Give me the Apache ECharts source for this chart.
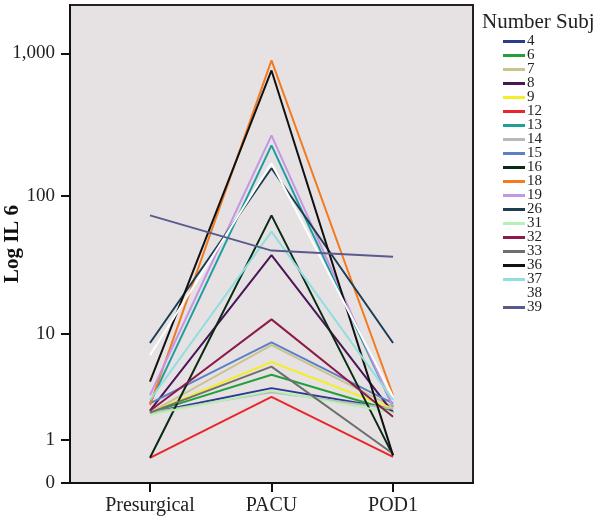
<!DOCTYPE html>
<html><head><meta charset="utf-8">
<script src="https://cdn.jsdelivr.net/npm/echarts@6/dist/echarts.min.js"></script>
<style>html,body{margin:0;padding:0;background:#fff}#c{width:601px;height:520px}</style>
</head><body><div id="c"></div>
<script>
var timepoints = ['Presurgical', 'PACU', 'POD1'];
var yTickValues = [0, 1, 10, 100, 1000];
var subjects = ['4','6','7','8','9','12','13','14','15','16','18','19','26','31','32','33','36','37','38','39'];
var colors = ['#2c3a8c','#22a03c','#c9c48f','#4a1657','#f2ee2a','#e8262c','#1f9e9e','#b9b9b9','#5b80c6','#0b2a16','#f47a20','#c596e6','#1b3e52','#b6f0b6','#8c1b4c','#6e6e6e','#111111','#90dede','#ffffff','#5b5a8c'];
var s4  = [2.1, 3.6, 2.3];
var s6  = [2.1, 4.7, 2.2];
var s7  = [2.1, 8.2, 2.4];
var s8  = [2.2, 38, 2.1];
var s9  = [2.1, 6.0, 2.3];
var s12 = [0.5, 3.0, 0.52];
var s13 = [2.6, 227, 2.4];
var s14 = [2.1, 3.3, 2.3];
var s15 = [2.6, 8.6, 2.6];
var s16 = [0.5, 73, 0.56];
var s18 = [2.5, 894, 3.1];
var s19 = [3.1, 267, 2.4];
var s26 = [8.5, 157, 8.5];
var s31 = [2.0, 3.4, 2.1];
var s32 = [2.2, 12.9, 1.9];
var s33 = [2.1, 5.5, 0.6];
var s36 = [4.1, 761, 0.56];
var s37 = [2.8, 56, 2.8];
var s38 = [6.8, 170, 3.0];
var s39 = [73, 41, 37];
var seriesValues = [s4,s6,s7,s8,s9,s12,s13,s14,s15,s16,s18,s19,s26,s31,s32,s33,s36,s37,s38,s39];

function tr(v){ return Math.log10(v + 1); }

var chart = echarts.init(document.getElementById('c'), null, {renderer:'canvas'});
var font = '"Liberation Serif","DejaVu Serif",serif';
var series = subjects.map(function(name, i){
  return {
    name: name, type: 'line', symbol: 'none', silent: true,
    lineStyle: {color: colors[i], width: 2},
    itemStyle: {color: colors[i]},
    data: seriesValues[i].map(function(v, j){ return [j, tr(v)]; })
  };
});
chart.setOption({
  animation: false,
  backgroundColor: '#ffffff',
  grid: {left: 70, top: 5, right: 128, bottom: 37, containLabel: false, outerBoundsMode: 'none',
         show: true, backgroundColor: '#e6e2e3', borderColor: '#222', borderWidth: 2},
  xAxis: {
    type: 'value', min: -0.658, max: 2.658,
    axisLine: {show: true, onZero: false, lineStyle: {color: '#111', width: 2}},
    axisTick: {show: true, length: 9, lineStyle: {color: '#111', width: 2}, customValues: [0,1,2]},
    axisLabel: {customValues: [0,1,2], margin: 13, color: '#222', fontFamily: font, fontSize: 20,
      formatter: function(v){ return timepoints[Math.round(v)] || ''; }},
    splitLine: {show: false}
  },
  yAxis: {
    type: 'value', min: 0, max: 3.339,
    name: 'Log IL 6', nameLocation: 'middle', nameGap: 47, nameMoveOverlap: false,
    nameTextStyle: {fontFamily: font, fontWeight: 'bold', fontSize: 21, color: '#111'},
    axisLine: {show: true, onZero: false, lineStyle: {color: '#111', width: 2}},
    axisTick: {show: true, length: 9, lineStyle: {color: '#111', width: 2}, customValues: yTickValues.map(tr)},
    axisLabel: {customValues: yTickValues.map(tr), margin: 15, color: '#222', fontFamily: font, fontSize: 19,
      formatter: function(v){ var n = Math.round(Math.pow(10, v) - 1); return n.toLocaleString('en-US'); }},
    splitLine: {show: false}
  },
  legend: {
    orient: 'vertical', left: 498, top: 29, icon: 'rect', itemWidth: 22, itemHeight: 3, itemGap: -1,
    selectedMode: false,
    textStyle: {fontFamily: font, fontSize: 15, color: '#222', lineHeight: 13, padding: [0,0,0,-3]},
    data: subjects
  },
  graphic: [{type: 'text', left: 482, top: 12, style: {text: 'Number Subj', font: '21px ' + font, fill: '#222'}}],
  series: series
});
</script></body></html>
